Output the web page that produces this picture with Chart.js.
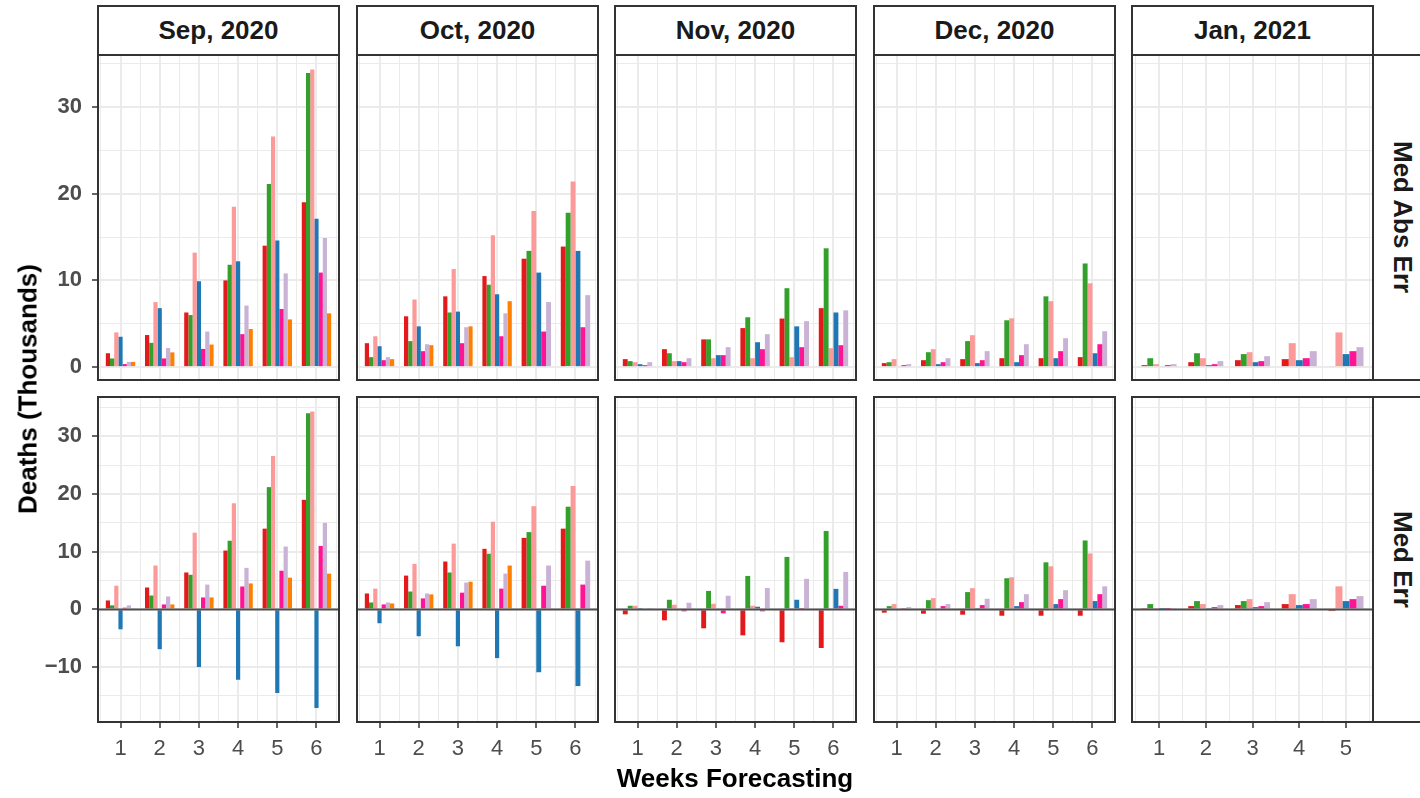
<!DOCTYPE html>
<html>
<head>
<meta charset="utf-8">
<script src="https://cdn.jsdelivr.net/npm/chart.js@4.4.0/dist/chart.umd.min.js"></script>
<style>
  body { margin: 0; background: #fff; width: 1420px; height: 798px; overflow: hidden; position: relative; font-family: "Liberation Sans", Arial, sans-serif; }
  canvas { position: absolute; }
  .strip { position: absolute; box-sizing: border-box; border: 2px solid #333; background: #fff; display: flex; align-items: center; justify-content: center; font-weight: bold; font-size: 26px; color: #1a1a1a; }
  .strip.side span { writing-mode: vertical-rl; }
  .title { position: absolute; font-weight: bold; font-size: 26px; color: #000; white-space: nowrap; transform: translate(-50%, -50%); }
</style>
</head>
<body>
<script>
// facets
const months = ['Sep, 2020', 'Oct, 2020', 'Nov, 2020', 'Dec, 2020', 'Jan, 2021'];
const metrics = ['Med Abs Err', 'Med Err'];
const weeksByMonth = [[1, 2, 3, 4, 5, 6], [1, 2, 3, 4, 5, 6], [1, 2, 3, 4, 5, 6], [1, 2, 3, 4, 5, 6], [1, 2, 3, 4, 5]];
const yRangeByMetric = [[-1.6, 36.1], [-19.7, 37.0]];

// series (order inside each group)
const seriesNames = ['Model A', 'Model B', 'Model C', 'Model D', 'Model E', 'Model F', 'Model G'];
const seriesColors = ['#E31A1C', '#33A02C', '#FB9A99', '#1F78B4', '#FF1493', '#CAB2D6', '#FF7F00'];

// deaths (thousands), one row per series
const sepAbsErr = [
  [1.6, 3.7, 6.3, 10.0, 14.0, 19.0],
  [1.0, 2.8, 6.0, 11.8, 21.1, 33.9],
  [4.0, 7.5, 13.2, 18.5, 26.6, 34.3],
  [3.5, 6.8, 9.9, 12.2, 14.6, 17.1],
  [0.35, 1.0, 2.1, 3.8, 6.7, 10.9],
  [0.6, 2.2, 4.1, 7.1, 10.8, 14.9],
  [0.6, 1.7, 2.6, 4.4, 5.5, 6.2]
];
const octAbsErr = [
  [2.76, 5.86, 8.16, 10.5, 12.5, 13.9],
  [1.15, 3.0, 6.3, 9.5, 13.4, 17.8],
  [3.56, 7.8, 11.3, 15.2, 18.0, 21.4],
  [2.41, 4.7, 6.4, 8.4, 10.9, 13.4],
  [0.8, 1.84, 2.76, 3.56, 4.1, 4.6],
  [1.15, 2.64, 4.6, 6.2, 7.5, 8.3],
  [0.92, 2.53, 4.7, 7.6, null, null]
];
const novAbsErr = [
  [0.92, 2.07, 3.2, 4.5, 5.6, 6.8],
  [0.69, 1.6, 3.2, 5.75, 9.1, 13.7],
  [0.57, 0.69, 1.03, 1.03, 1.15, 2.18],
  [0.34, 0.69, 1.38, 2.87, 4.7, 6.3],
  [0.23, 0.57, 1.38, 2.07, 2.3, 2.53],
  [0.57, 1.03, 2.3, 3.8, 5.3, 6.55],
  [null, null, null, null, null, null]
];
const decAbsErr = [
  [0.46, 0.8, 0.92, 1.03, 1.03, 1.15],
  [0.57, 1.72, 3.0, 5.4, 8.16, 11.95],
  [0.92, 2.07, 3.68, 5.63, 7.6, 9.66],
  [0.11, 0.34, 0.46, 0.57, 1.03, 1.6],
  [0.23, 0.57, 0.8, 1.38, 1.84, 2.64],
  [0.34, 1.03, 1.84, 2.64, 3.33, 4.14],
  [null, null, null, null, null, null]
];
const janAbsErr = [
  [0.23, 0.57, 0.8, 0.92, 0.11],
  [1.03, 1.6, 1.5, null, null],
  [0.34, 1.03, 1.72, 2.76, 4.0],
  [0.11, 0.23, 0.57, 0.8, 1.5],
  [0.23, 0.34, 0.69, 1.03, 1.84],
  [0.34, 0.69, 1.26, 1.84, 2.3],
  [null, null, null, null, null]
];
const sepMedErr = [
  [1.55, 3.8, 6.4, 10.2, 14.0, 19.0],
  [0.7, 2.4, 6.0, 11.9, 21.2, 34.0],
  [4.1, 7.6, 13.3, 18.4, 26.6, 34.3],
  [-3.45, -6.9, -10.0, -12.2, -14.5, -17.1],
  [0.3, 0.86, 2.07, 3.97, 6.7, 11.0],
  [0.7, 2.24, 4.3, 7.2, 10.9, 15.0],
  [0.2, 0.86, 2.07, 4.5, 5.5, 6.2]
];
const octMedErr = [
  [2.76, 5.86, 8.3, 10.5, 12.4, 14.0],
  [1.2, 3.1, 6.4, 9.65, 13.4, 17.8],
  [3.6, 7.9, 11.4, 15.2, 17.9, 21.4],
  [-2.4, -4.65, -6.4, -8.45, -10.9, -13.3],
  [0.86, 1.9, 2.9, 3.6, 4.1, 4.3],
  [1.2, 2.76, 4.65, 6.2, 7.6, 8.45],
  [1.03, 2.6, 4.8, 7.6, null, null]
];
const novMedErr = [
  [-0.86, -1.9, -3.28, -4.5, -5.7, -6.7],
  [0.63, 1.67, 3.2, 5.8, 9.1, 13.6],
  [0.63, 0.8, 0.98, 0.63, 0.2, 0.2],
  [0.1, -0.17, -0.17, 0.46, 1.67, 3.56],
  [-0.17, -0.34, -0.69, -0.34, 0.1, 0.63],
  [0.1, 1.15, 2.36, 3.7, 5.3, 6.5],
  [null, null, null, null, null, null]
];
const decMedErr = [
  [-0.57, -0.75, -0.92, -1.1, -1.1, -1.1],
  [0.57, 1.6, 3.0, 5.4, 8.16, 11.95],
  [0.92, 1.95, 3.68, 5.57, 7.47, 9.7],
  [0.17, 0.17, 0.23, 0.57, 0.92, 1.44],
  [0.23, 0.57, 0.75, 1.26, 1.78, 2.64],
  [0.4, 0.92, 1.84, 2.64, 3.33, 4.0],
  [null, null, null, null, null, null]
];
const janMedErr = [
  [0.23, 0.57, 0.75, 0.92, -0.29],
  [0.92, 1.44, 1.44, null, null],
  [0.23, 0.92, 1.78, 2.64, 4.0],
  [0.06, 0.23, 0.4, 0.75, 1.44],
  [0.06, 0.4, 0.57, 0.92, 1.78],
  [0.23, 0.75, 1.26, 1.78, 2.3],
  [null, null, null, null, null]
];

const panelValues = [
  [sepAbsErr, octAbsErr, novAbsErr, decAbsErr, janAbsErr],
  [sepMedErr, octMedErr, novMedErr, decMedErr, janMedErr]
];

// layout
const panelLeft = [97, 356, 614, 873, 1131];
const panelTop = [54, 396];
const panelW = 243, panelH = 327;
const yAxisW = 60, xAxisH = 48;

Chart.defaults.font.family = '"Liberation Sans", Arial, sans-serif';

// border round each panel + zero reference line on the Med Err row
const panelFrame = {
  id: 'panelFrame',
  afterDatasetsDraw(chart, args, opts) {
    if (!opts.zeroLine) return;
    const ctx = chart.ctx, a = chart.chartArea;
    const y = chart.scales.y.getPixelForValue(0);
    ctx.save();
    ctx.strokeStyle = '#4D4D4D';
    ctx.lineWidth = 2;
    ctx.beginPath();
    ctx.moveTo(a.left, y);
    ctx.lineTo(a.right, y);
    ctx.stroke();
    ctx.restore();
  },
  afterDraw(chart) {
    const ctx = chart.ctx, a = chart.chartArea;
    ctx.save();
    ctx.strokeStyle = '#333333';
    ctx.lineWidth = 2;
    ctx.strokeRect(a.left + 1, a.top + 1, a.right - a.left - 2, a.bottom - a.top - 2);
    ctx.restore();
  }
};

function addDiv(cls, html, css) {
  const d = document.createElement('div');
  d.className = cls;
  d.innerHTML = html;
  Object.assign(d.style, css);
  document.body.appendChild(d);
  return d;
}

function makePanel(row, col) {
  const isLeft = col === 0;
  const isBottom = row === 1;
  const weeks = weeksByMonth[col];
  const vals = panelValues[row][col];
  const [ymin, ymax] = yRangeByMetric[row];

  const cv = document.createElement('canvas');
  cv.width = panelW + (isLeft ? yAxisW : 0);
  cv.height = panelH + (isBottom ? xAxisH : 0);
  cv.style.left = (panelLeft[col] - (isLeft ? yAxisW : 0)) + 'px';
  cv.style.top = panelTop[row] + 'px';
  document.body.appendChild(cv);

  const isWhole = v => Math.abs(v - Math.round(v)) < 1e-9;

  new Chart(cv, {
    type: 'bar',
    data: {
      datasets: seriesNames.map((name, k) => ({
        label: name,
        data: weeks.map((wk, i) => ({ x: wk, y: vals[k][i] })),
        backgroundColor: seriesColors[k],
        borderWidth: 0,
        categoryPercentage: 1.5,
        barPercentage: 1,
        skipNull: true
      }))
    },
    options: {
      responsive: false,
      animation: false,
      devicePixelRatio: 1,
      layout: { padding: 0 },
      plugins: {
        legend: { display: false },
        tooltip: { enabled: false },
        panelFrame: { zeroLine: row === 1 }
      },
      scales: {
        x: {
          type: 'linear',
          min: 0.4,
          max: weeks.length + 0.6,
          offset: false,
          border: { display: false },
          grid: {
            offset: false,
            color: '#EBEBEB',
            lineWidth: c => isWhole(c.tick.value) ? 2 : 1,
            drawTicks: isBottom,
            tickLength: 5,
            tickWidth: 1.5,
            tickColor: c => isWhole(c.tick.value) ? '#333333' : 'rgba(0,0,0,0)'
          },
          ticks: {
            display: isBottom,
            stepSize: 0.5,
            includeBounds: false,
            autoSkip: false,
            maxRotation: 0,
            padding: 8,
            color: '#4D4D4D',
            font: { size: 22 },
            callback: v => isWhole(v) ? String(Math.round(v)) : ''
          },
          afterFit: s => {
            if (isBottom) s.height = xAxisH;
            s.paddingLeft = 0;
            s.paddingRight = 0;
          }
        },
        y: {
          min: ymin,
          max: ymax,
          border: { display: false },
          grid: {
            color: '#EBEBEB',
            lineWidth: c => c.tick.value % 10 === 0 ? 2 : 1,
            drawTicks: isLeft,
            tickLength: 5,
            tickWidth: 1.5,
            tickColor: c => c.tick.value % 10 === 0 ? '#333333' : 'rgba(0,0,0,0)'
          },
          ticks: {
            display: isLeft,
            stepSize: 5,
            includeBounds: false,
            padding: 10,
            color: '#4D4D4D',
            font: { size: 22, weight: 'bold' },
            callback: v => v % 10 === 0 ? (v < 0 ? '\u2212' + Math.abs(v) : String(v)) : ''
          },
          afterFit: s => {
            if (isLeft) s.width = yAxisW;
            s.paddingTop = 0;
            s.paddingBottom = 0;
          }
        }
      }
    },
    plugins: [panelFrame]
  });
}

// strips
months.forEach((m, c) => {
  addDiv('strip', m, { left: panelLeft[c] + 'px', top: '5px', width: panelW + 'px', height: '51px' });
});
metrics.forEach((m, r) => {
  addDiv('strip side', '<span>' + m + '</span>', {
    left: (panelLeft[4] + panelW - 2) + 'px', top: panelTop[r] + 'px', width: '60px', height: panelH + 'px'
  });
});

for (let r = 0; r < 2; r++) {
  for (let c = 0; c < months.length; c++) makePanel(r, c);
}

addDiv('title', 'Deaths (Thousands)', { left: '28px', top: '389px', transform: 'translate(-50%, -50%) rotate(-90deg)' });
addDiv('title', 'Weeks Forecasting', { left: '735px', top: '778px' });
</script>
</body>
</html>
